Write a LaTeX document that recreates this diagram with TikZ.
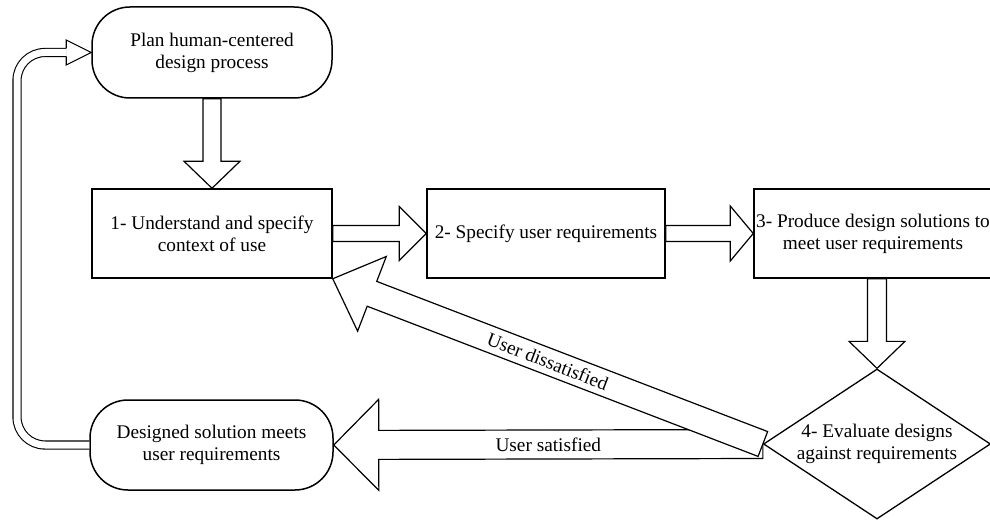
\documentclass[tikz,border=0pt]{standalone}
\usepackage{fontspec}
\setmainfont{Liberation Serif}
\usetikzlibrary{calc,shapes.geometric}
\tikzset{
  txt/.style={font=\fontsize{19.3}{22}\selectfont, align=center},
  box/.style={txt, draw, line width=1.5pt, rectangle, inner sep=0pt},
  stad/.style={box, rounded corners=38pt},
  lbl/.style={txt, inner sep=0pt},
  barrowst/.style={draw, fill=white, line width=1.2pt, line join=miter},
}
% #1 from, #2 to, #3 half shaft, #4 half head, #5 head length
\newcommand\blockarrow[5]{%
  \coordinate (ba-A) at (#1);
  \coordinate (ba-B) at (#2);
  \coordinate (ba-H) at ($(ba-B)!#5!(ba-A)$);
  \draw[barrowst] ($(ba-A)!#3!90:(ba-B)$) -- ($(ba-H)!#3!90:(ba-B)$)
    -- ($(ba-H)!#4!90:(ba-B)$) -- (ba-B) -- ($(ba-H)!#4!-90:(ba-B)$)
    -- ($(ba-H)!#3!-90:(ba-B)$) -- ($(ba-A)!#3!-90:(ba-B)$) -- cycle;
}
\begin{document}
\begin{tikzpicture}[x=1pt, y=-1pt]
\useasboundingbox (0,0) rectangle (990,521);

% nodes
\node[stad, minimum width=240pt, minimum height=91pt] (plan) at (212,52.5)
  {Plan human-centered\\design process};
\node[box, minimum width=240pt, minimum height=89pt] (b1) at (212,233.5)
  {1- Understand and specify\\context of use};
\node[box, minimum width=238pt, minimum height=89pt] (b2) at (546,233.5)
  {2- Specify user requirements};
\node[box, minimum width=238pt, minimum height=89pt] (b3) at (873,233.5)
  {3- Produce design solutions to\\meet user requirements};
\node[draw, line width=1.3pt, diamond, inner sep=0pt, minimum width=227pt,
  minimum height=150pt] (d4) at (877,444) {};
\node[lbl] (d4t) at (d4.center) {4- Evaluate designs\\against requirements};
\node[stad, minimum width=243pt, minimum height=90pt] (db) at (211.5,445)
  {Designed solution meets\\user requirements};

% block arrows
\blockarrow{plan.south}{b1.north}{9pt}{28pt}{27pt}
\blockarrow{b1.east}{b2.west}{8pt}{27pt}{27pt}
\blockarrow{b2.east}{b3.west}{8pt}{27.5pt}{23pt}
\blockarrow{d4.north |- b3.south}{d4.north}{9.5pt}{28pt}{27pt}
\blockarrow{d4.west}{db.east}{14.5pt}{45.5pt}{45pt}
\node[lbl] (sat) at ($(d4.west)!0.5!(db.east)$) {User satisfied};
\blockarrow{d4.west}{b1.south east}{13.3pt}{40pt}{42pt}
\path (b1.south east) -- node[lbl, sloped] (dis) {User dissatisfied} (d4.west);

% loop arrow
\coordinate (lbot) at (17,445);
\coordinate (ltop) at (17,52.5);
\coordinate (lhb) at ($(plan.west)+(-25,0)$);
\draw[double, double distance=7pt, line width=1.1pt, rounded corners=28pt]
  (db.west) -- (lbot) -- (ltop) -- (lhb);
\draw[line width=1.1pt, fill=white, line join=miter]
  ($(lhb)+(0,-4)$) -- ($(lhb)+(0,-12.5)$) -- (plan.west)
  -- ($(lhb)+(0,12.5)$) -- ($(lhb)+(0,4)$);
\end{tikzpicture}
\end{document}
